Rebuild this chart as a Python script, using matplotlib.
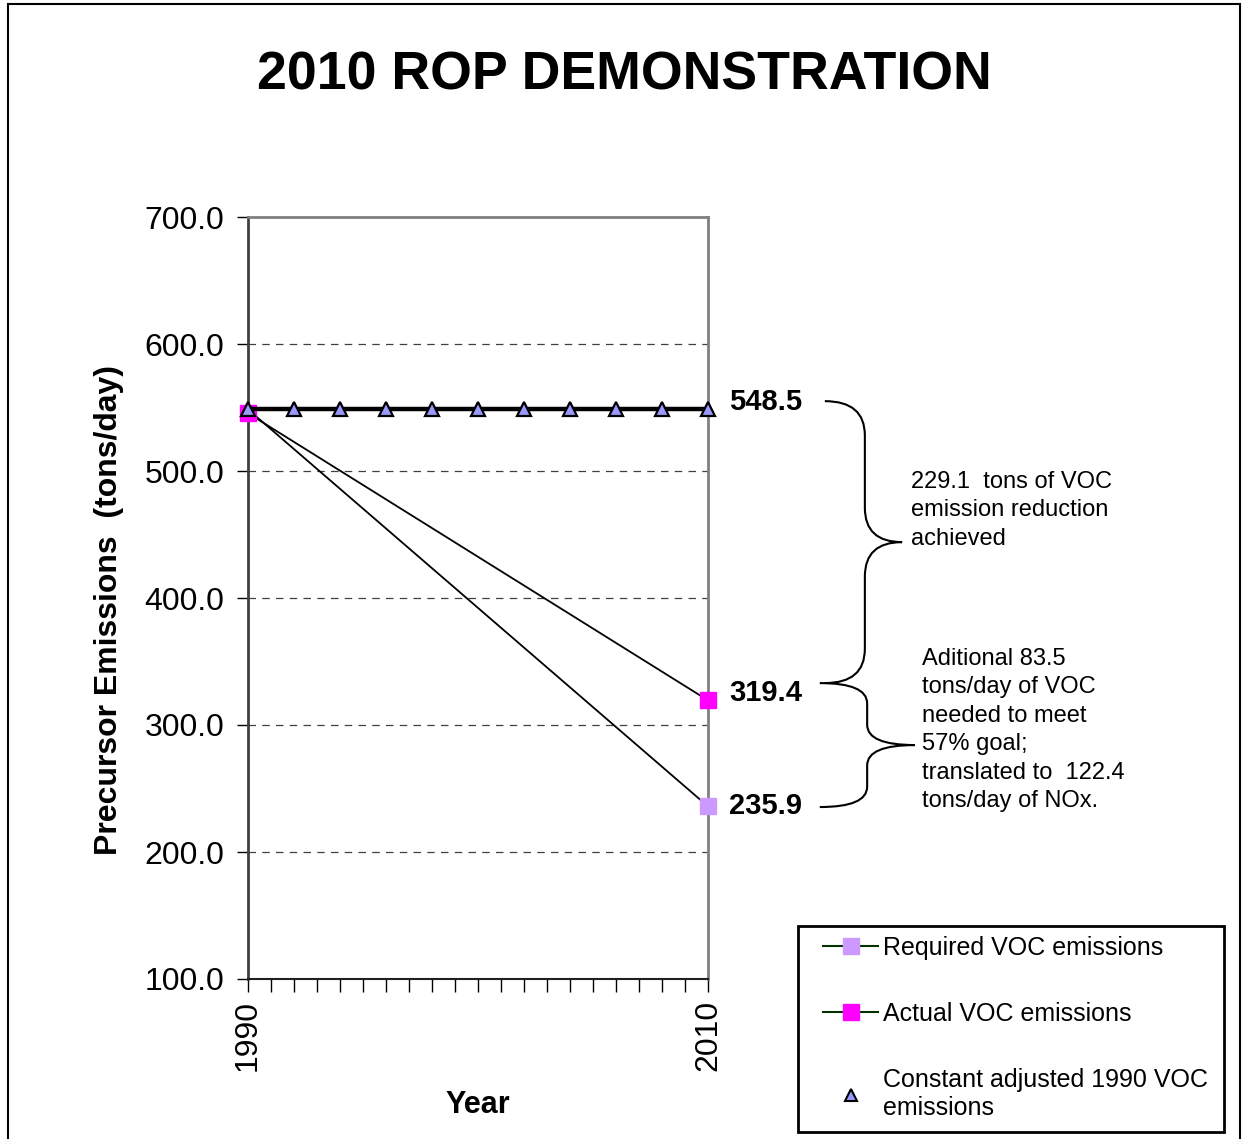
#!/usr/bin/env python3
"""2010 ROP demonstration chart (VOC emissions, 1990 -> 2010)."""

import matplotlib
matplotlib.use("Agg")
import matplotlib.pyplot as plt
import matplotlib.transforms as mtransforms
from matplotlib.path import Path
from matplotlib.patches import PathPatch, Rectangle
from matplotlib.lines import Line2D
from matplotlib.ticker import FixedLocator, MultipleLocator, FormatStrFormatter

plt.rcParams['font.family'] = ['Liberation Sans', 'DejaVu Sans']

# --- Data ---
years_const = [1990, 1992, 1994, 1996, 1998, 2000, 2002, 2004, 2006, 2008, 2010]
const_1990 = [548.5] * len(years_const)

years_ends = [1990, 2010]
required_voc = [548.5, 235.9]
actual_voc = [545.5, 319.4]

value_labels = [548.5, 319.4, 235.9]

note_achieved = "229.1  tons of VOC\nemission reduction\nachieved"
note_needed = ("Aditional 83.5\ntons/day of VOC\nneeded to meet\n57% goal;\n"
               "translated to  122.4\ntons/day of NOx.")

W, H = 1243, 1139
fig = plt.figure(figsize=(W / 100, H / 100), dpi=100)


def fx(px):
    return px / W


def fy(py):
    return 1 - py / H


# figure border (bottom edge falls off the picture)
fig.patches.append(Rectangle((fx(8), fy(1150)), fx(1240) - fx(8), fy(4) - fy(1150),
                             transform=fig.transFigure, fill=False,
                             edgecolor='black', linewidth=1.5))

ax = fig.add_axes([fx(248), fy(979), fx(708) - fx(248), fy(217) - fy(979)])

# lines
ax.plot(years_ends, required_voc, color='black', lw=1.3, zorder=3)
ax.plot(years_ends, actual_voc, color='black', lw=1.3, zorder=3)
ax.plot(years_ends[1:], required_voc[1:], ls='none', marker='s', ms=11,
        mfc='#cc99ff', mec='#cc99ff', zorder=4, clip_on=False)
ax.plot(years_ends, actual_voc, ls='none', marker='s', ms=11,
        mfc='#ff00ff', mec='#ff00ff', zorder=4, clip_on=False)
ax.plot(years_const, const_1990, color='black', lw=3.2, zorder=5, clip_on=False)
ax.plot(years_const, const_1990, ls='none', marker='^', ms=10,
        mfc='#9999ff', mec='black', mew=1.6, zorder=6, clip_on=False)

# axes formatting
ax.set_xlim(1990, 2010)
ax.set_ylim(100, 700)
ax.xaxis.set_major_locator(FixedLocator([1990, 2010]))
ax.xaxis.set_minor_locator(MultipleLocator(1))
ax.yaxis.set_major_locator(MultipleLocator(100))
ax.yaxis.set_major_formatter(FormatStrFormatter('%.1f'))
ax.tick_params(axis='y', labelsize=23, length=8, width=1, pad=9, direction='out')
ax.tick_params(axis='x', which='both', length=9, width=1, direction='out')
ax.tick_params(axis='x', which='major', labelsize=23, labelrotation=90, pad=6)

for y in [200, 300, 400, 500, 600]:
    ax.axhline(y, color='#404040', lw=0.9, ls=(0, (6, 5)), zorder=1)

for side in ['top', 'right']:
    ax.spines[side].set_color('#808080')
    ax.spines[side].set_linewidth(2)
ax.spines['left'].set_color('#404040')
ax.spines['left'].set_linewidth(2)
ax.spines['bottom'].set_color('#202020')
ax.spines['bottom'].set_linewidth(1.5)

ax.set_ylabel("Precursor Emissions  (tons/day)", fontsize=23, fontweight='bold')
ax.yaxis.set_label_coords(-0.2685, 0.484)
ax.set_xlabel("Year", fontsize=22, fontweight='bold', labelpad=14)

fig.text(fx(624), fy(75), "2010 ROP DEMONSTRATION", fontsize=38.6, fontweight='bold',
         ha='center', va='center')

# value labels to the right of 2010
blend = mtransforms.blended_transform_factory(ax.transAxes, ax.transData)
offsets = [6, 6, 0]
for v, off in zip(value_labels, offsets):
    ax.text(1.046, v + off, f"{v:.1f}", transform=blend, fontsize=21,
            fontweight='bold', ha='left', va='center', clip_on=False)


def brace(x0, x1, x2, ytop, ybot, r):
    ymid = (ytop + ybot) / 2
    verts = [(x0, ytop), (x1, ytop), (x1, ytop - r),
             (x1, ymid + r),
             (x1, ymid), (x2, ymid),
             (x1, ymid), (x1, ymid - r),
             (x1, ybot + r),
             (x1, ybot), (x0, ybot)]
    codes = [Path.MOVETO, Path.CURVE3, Path.CURVE3,
             Path.LINETO,
             Path.CURVE3, Path.CURVE3,
             Path.CURVE3, Path.CURVE3,
             Path.LINETO,
             Path.CURVE3, Path.CURVE3]
    p = PathPatch(Path(verts, codes), transform=blend, fill=False,
                  edgecolor='black', lw=1.5, clip_on=False)
    ax.add_patch(p)


brace(1.254, 1.341, 1.422, 555, 333, 27)
brace(1.243, 1.346, 1.45, 333, 235.4, 16)

fig.text(fx(911), fy(471), note_achieved, fontsize=17, ha='left', va='top', linespacing=1.38)
fig.text(fx(922), fy(648), note_needed, fontsize=17, ha='left', va='top', linespacing=1.38)

# legend (frame drawn separately so it can be padded like the original)
fig.patches.append(Rectangle((fx(798), fy(1132)), fx(1224) - fx(798), fy(926) - fy(1132),
                             transform=fig.transFigure, fill=False,
                             edgecolor='black', linewidth=2))
handles = [
    Line2D([], [], color='#003300', lw=1.5, marker='s', ms=11, mfc='#cc99ff', mec='#cc99ff'),
    Line2D([], [], color='#003300', lw=1.5, marker='s', ms=11, mfc='#ff00ff', mec='#ff00ff'),
    Line2D([], [], ls='none', marker='^', ms=9, mfc='#9999ff', mec='black', mew=1.5),
]
labels = ["Required VOC emissions", "Actual VOC emissions",
          "Constant adjusted 1990 VOC\nemissions"]
leg = fig.legend(handles, labels, loc='upper left',
                 bbox_to_anchor=(fx(823), fy(936)), borderaxespad=0,
                 fontsize=18, frameon=False,
                 handlelength=2.2, handletextpad=0.2, labelspacing=1.68,
                 borderpad=0)

fig.savefig("out.png", dpi=100)
